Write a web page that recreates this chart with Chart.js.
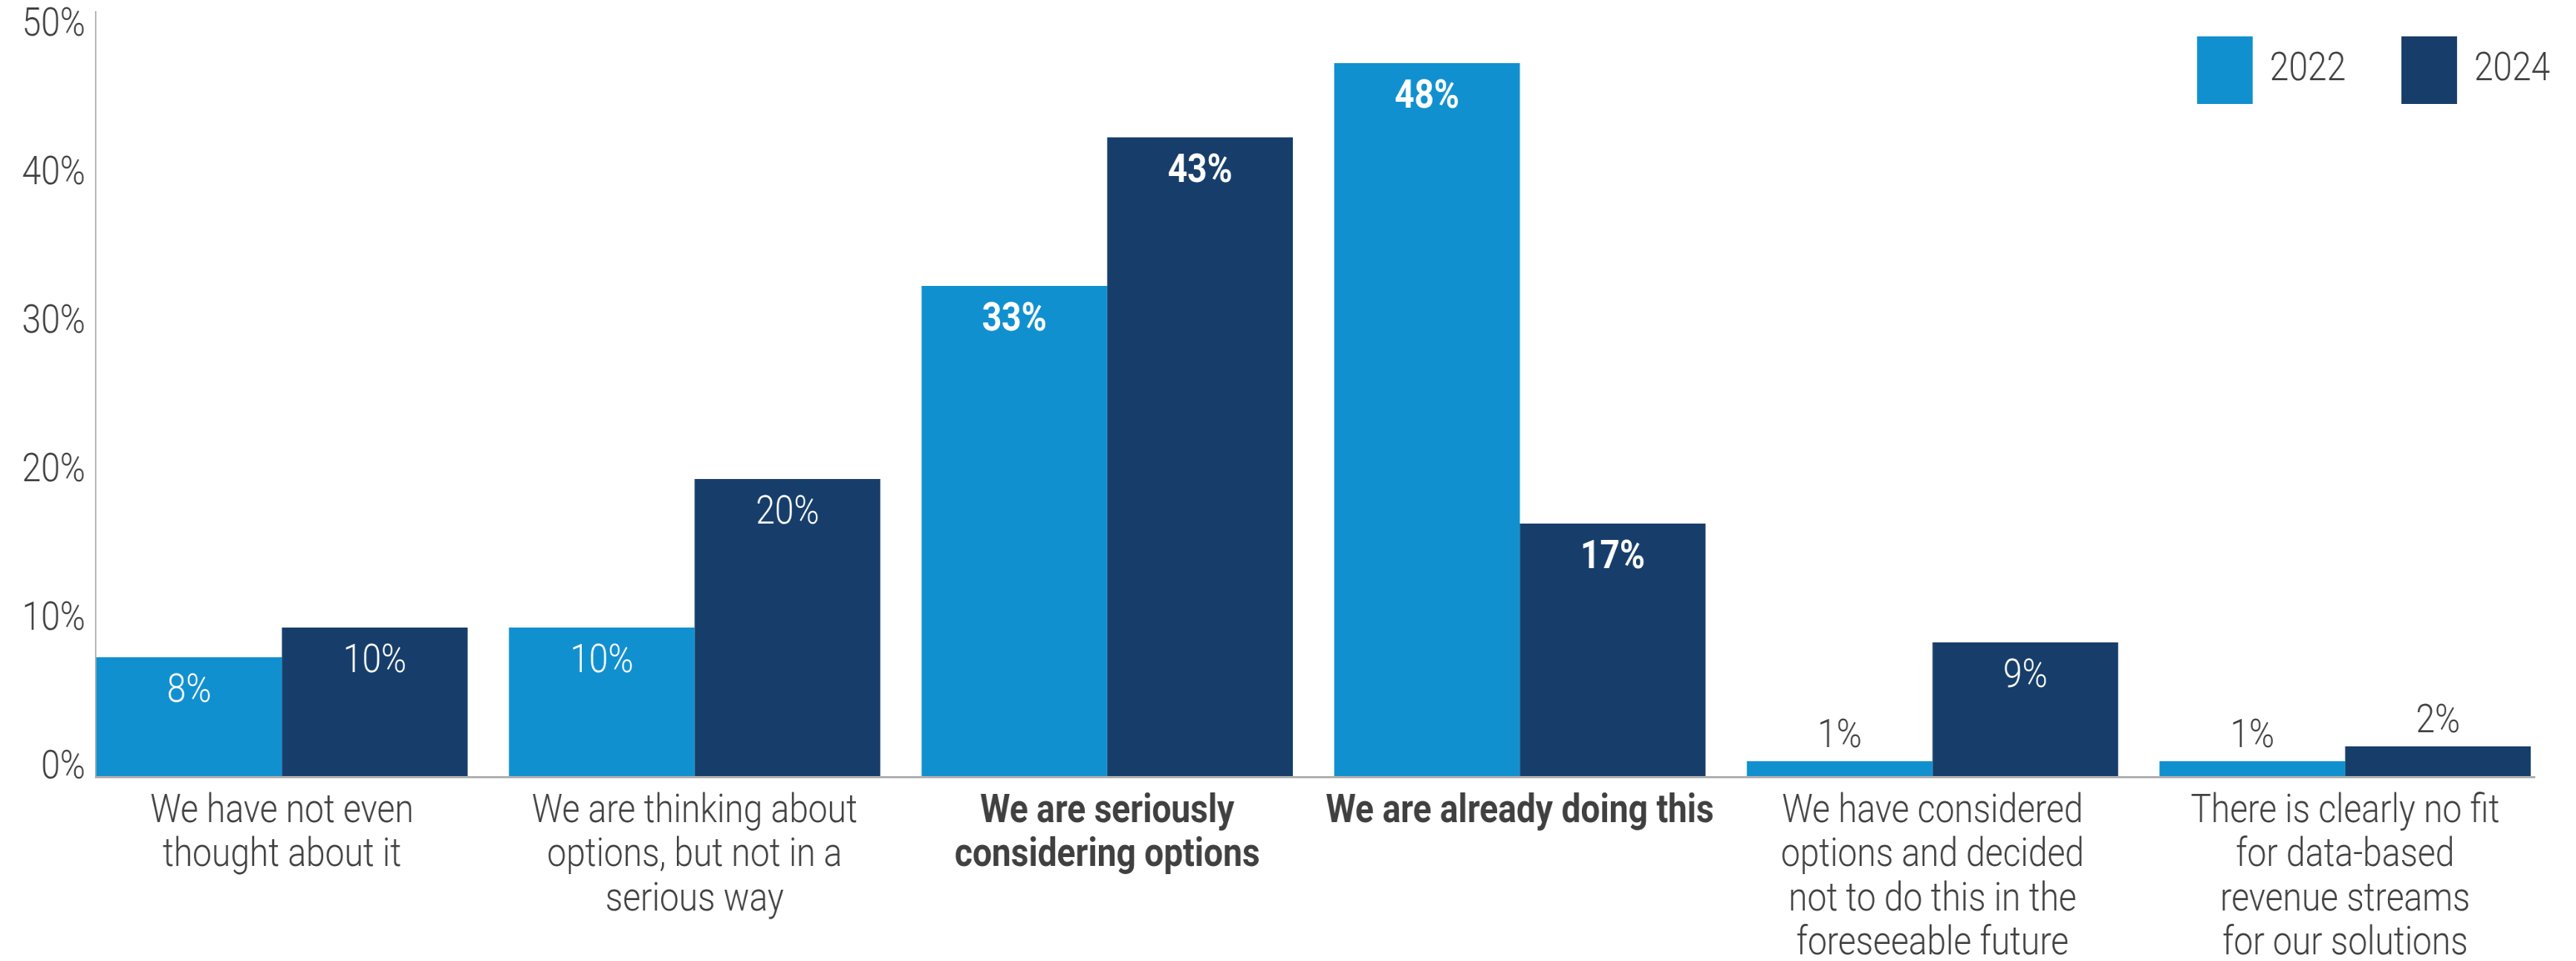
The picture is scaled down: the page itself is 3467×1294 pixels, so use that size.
<!DOCTYPE html>
<html>
<head>
<meta charset="utf-8">
<script src="https://cdn.jsdelivr.net/npm/chart.js@4"></script>
<style>
  html, body { margin: 0; padding: 0; background: #ffffff; overflow: hidden; }
</style>
</head>
<body>
<!-- o desenho e feito mais largo e comprimido na horizontal (fonte estreita) -->
<canvas id="revenueStreams" width="3985" height="1294" style="display:block;width:3467px;height:1294px;"></canvas>
<script>
var categorias = [
  ['We have not even', 'thought about it'],
  ['We are thinking about', 'options, but not in a', 'serious way'],
  ['We are seriously', 'considering options'],
  ['We are already doing this'],
  ['We have considered', 'options and decided', 'not to do this in the', 'foreseeable future'],
  ['There is clearly no fit', 'for data-based', 'revenue streams', 'for our solutions']
];
var anos = ['2022', '2024'];
var valores2022 = [8, 10, 33, 48, 1, 1];
var valores2024 = [10, 20, 43, 17, 9, 2];
var ticksY = [0, 10, 20, 30, 40, 50];
var destaques = [2, 3];

var azulClaro = '#1190cf';
var azulEscuro = '#173e6a';
var cinzaTexto = '#404040';
var fonte = 'Roboto';
var tamanhoFonte = 53;
var espacoLegenda = 86;

// largura do maior rotulo do eixo y, para alinhar os rotulos a direita
var medidor = document.createElement('canvas').getContext('2d');
medidor.font = '300 ' + tamanhoFonte + 'px ' + fonte;
var larguraTickY = Math.max.apply(null, ticksY.map(function (v) {
  return medidor.measureText(v + '%').width;
}));

// eixos desenhados a partir das barras (comecam na primeira barra, nao na area do grafico)
var linhasEixo = {
  id: 'linhasEixo',
  afterDatasetsDraw(chart) {
    var ctx = chart.ctx;
    var y = chart.scales.y;
    var primeira = chart.getDatasetMeta(0).data[0];
    var ultimaMeta = chart.getDatasetMeta(chart.data.datasets.length - 1);
    var ultima = ultimaMeta.data[ultimaMeta.data.length - 1];
    var esq = primeira.x - primeira.width / 2;
    var dir = ultima.x + ultima.width / 2;
    var base = y.getPixelForValue(0);
    ctx.save();
    ctx.strokeStyle = '#a8a8a8';
    ctx.lineWidth = 2;
    ctx.beginPath();
    ctx.moveTo(esq - 1, chart.chartArea.top);
    ctx.lineTo(esq - 1, base + 2);
    ctx.stroke();
    ctx.strokeStyle = '#b0b0b0';
    ctx.lineWidth = 3;
    ctx.beginPath();
    ctx.moveTo(esq - 2, base + 1.5);
    ctx.lineTo(dir + 7, base + 1.5);
    ctx.stroke();
    ctx.restore();
  }
};

// rotulos de valor: dentro da barra em branco, ou acima quando a barra e baixa
var rotulosValor = {
  id: 'rotulosValor',
  afterDatasetsDraw(chart) {
    var ctx = chart.ctx;
    ctx.save();
    ctx.textAlign = 'center';
    ctx.textBaseline = 'middle';
    chart.data.datasets.forEach(function (ds, i) {
      chart.getDatasetMeta(i).data.forEach(function (barra, j) {
        var v = ds.data[j];
        var peso = destaques.indexOf(j) >= 0 ? 'bold' : '300';
        ctx.font = peso + ' ' + tamanhoFonte + 'px ' + fonte;
        if (v >= 5) {
          ctx.fillStyle = '#ffffff';
          ctx.fillText(v + '%', barra.x, barra.y + 47);
        } else {
          ctx.fillStyle = cinzaTexto;
          ctx.fillText(v + '%', barra.x, barra.y - 32);
        }
      });
    });
    ctx.restore();
  }
};

// legenda no topo sem ocupar altura: fica por cima da area do grafico, a direita
var legendaSobreposta = {
  id: 'legendaSobreposta',
  beforeLayout(chart) {
    var leg = chart.legend;
    if (leg && !leg._semAltura) {
      var fitOriginal = leg.fit;
      leg.fit = function () {
        fitOriginal.call(this);
        this.height = 0;
      };
      leg._semAltura = true;
    }
  },
  afterLayout(chart) {
    var leg = chart.legend;
    var desloc = chart.chartArea.right - 2 - (leg.right - espacoLegenda);
    leg.top = 49 - espacoLegenda;
    leg.bottom = leg.top + 300;
    leg.left += desloc;
    leg.right += desloc;
  }
};

Chart.defaults.font.family = fonte;
Chart.defaults.color = cinzaTexto;

new Chart(document.getElementById('revenueStreams'), {
  type: 'bar',
  data: {
    labels: categorias,
    datasets: [
      {
        label: anos[0],
        data: valores2022,
        backgroundColor: azulClaro,
        categoryPercentage: 0.9,
        barPercentage: 1.0
      },
      {
        label: anos[1],
        data: valores2024,
        backgroundColor: azulEscuro,
        categoryPercentage: 0.9,
        barPercentage: 1.0
      }
    ]
  },
  options: {
    responsive: false,
    devicePixelRatio: 1,
    animation: false,
    layout: {
      padding: { top: 15, right: 38, left: 0, bottom: 0 }
    },
    scales: {
      x: {
        grid: { display: false, drawTicks: false },
        border: { display: false },
        ticks: {
          maxRotation: 0,
          autoSkip: false,
          padding: 19,
          color: cinzaTexto,
          font: function (ctx) {
            return {
              size: tamanhoFonte,
              lineHeight: 1.12,
              weight: destaques.indexOf(ctx.index) >= 0 ? 'bold' : '300'
            };
          }
        },
        afterFit: function (scale) {
          scale.height = 249;
        }
      },
      y: {
        min: 0,
        max: 51.5,
        grid: { display: false, drawTicks: false },
        border: { display: false },
        afterBuildTicks: function (scale) {
          scale.ticks = ticksY.map(function (v) { return { value: v }; });
        },
        ticks: {
          mirror: true,
          crossAlign: 'far',
          padding: 15 - larguraTickY,
          labelOffset: -10,
          color: cinzaTexto,
          font: { size: tamanhoFonte, weight: '300' },
          callback: function (v) { return v + '%'; }
        },
        afterFit: function (scale) {
          scale.width = 117;
        }
      }
    },
    plugins: {
      legend: {
        position: 'top',
        align: 'end',
        labels: {
          boxWidth: 86,
          boxHeight: 91,
          padding: espacoLegenda,
          color: cinzaTexto,
          font: { size: tamanhoFonte, weight: '300' }
        }
      },
      tooltip: { enabled: false }
    }
  },
  plugins: [linhasEixo, rotulosValor, legendaSobreposta]
});
</script>
</body>
</html>
